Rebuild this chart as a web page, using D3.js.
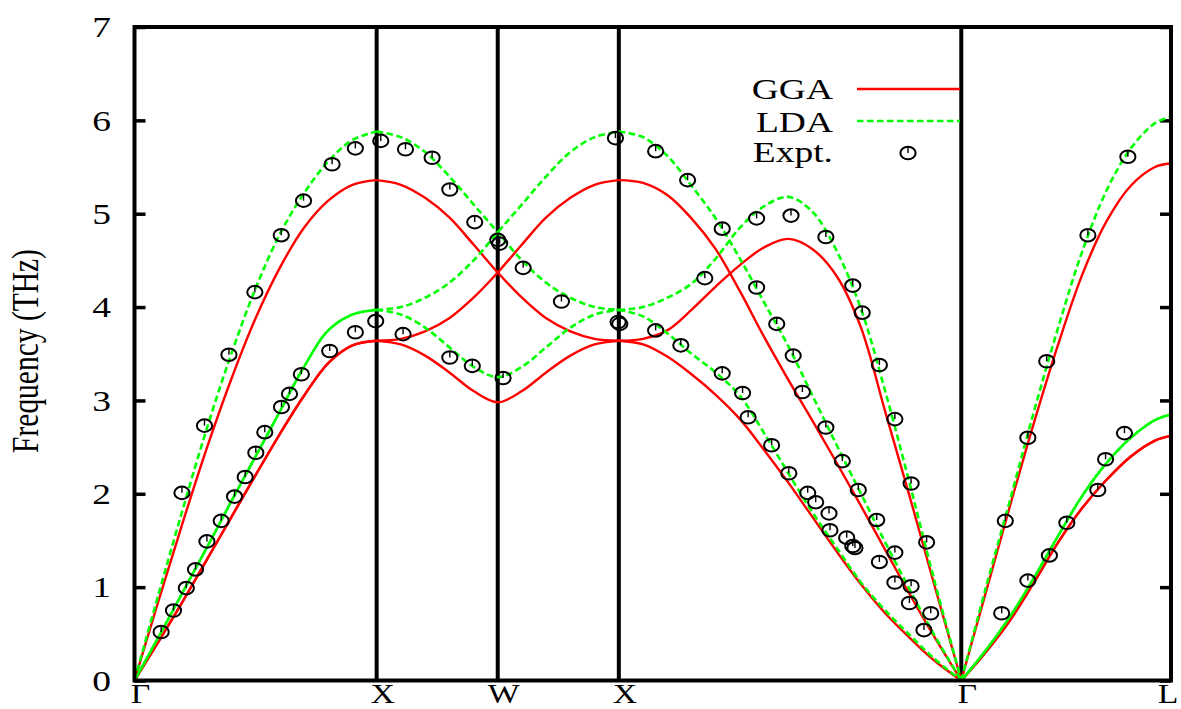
<!DOCTYPE html>
<html><head><meta charset="utf-8">
<script src="https://cdn.jsdelivr.net/npm/d3@7"></script>
<style>
body{margin:0;background:#fff}
svg{display:block;background:#fff}
text{font-family:"Liberation Serif","Times New Roman",serif;fill:#000}
</style>
</head><body>
<svg id="c" width="1181" height="709"></svg>
<script>
// ---- high-symmetry path ----
const symLabels = ["Γ", "X", "W", "X", "Γ", "L"];
const symK = [0, 1, 1.5, 2, 3.4142, 4.2802];
const yTicks = [0, 1, 2, 3, 4, 5, 6, 7];

// ---- Γ–X ----
const kGX = [0, 0.1, 0.2, 0.3, 0.4, 0.5, 0.6, 0.7, 0.8, 0.9, 1.0];
const ggaGX_LA = [0, 0.86, 1.7, 2.5, 3.23, 3.88, 4.42, 4.85, 5.14, 5.31, 5.36];
const ggaGX_TA = [0, 0.42, 0.85, 1.3, 1.75, 2.2, 2.64, 3.05, 3.4, 3.59, 3.64];
const ldaGX_LA = [0, 0.93, 1.84, 2.71, 3.5, 4.2, 4.78, 5.22, 5.56, 5.79, 5.88];
const ldaGX_TA = [0, 0.47, 0.95, 1.43, 1.92, 2.4, 2.88, 3.36, 3.75, 3.92, 3.97];

// ---- X–W–X ----
const kXWX = [1.0, 1.1, 1.2, 1.3, 1.4, 1.5, 1.6, 1.7, 1.8, 1.9, 2.0];
const ggaXWX_A = [5.36, 5.31, 5.17, 4.96, 4.67, 4.37, 4.1, 3.88, 3.74, 3.66, 3.64];
const ggaXWX_B = [3.64, 3.66, 3.74, 3.88, 4.1, 4.37, 4.67, 4.96, 5.17, 5.31, 5.36];
const ggaXWX_C = [3.64, 3.6, 3.48, 3.3, 3.1, 2.98, 3.1, 3.3, 3.48, 3.6, 3.64];
const ldaXWX_A = [5.88, 5.82, 5.66, 5.4, 5.1, 4.8, 4.5, 4.26, 4.1, 4.0, 3.97];
const ldaXWX_B = [3.97, 4.0, 4.1, 4.26, 4.5, 4.8, 5.1, 5.4, 5.66, 5.82, 5.88];
const ldaXWX_C = [3.97, 3.92, 3.78, 3.57, 3.36, 3.25, 3.36, 3.57, 3.78, 3.92, 3.97];

// ---- X–Γ ----
const kXG = [2.0, 2.1, 2.2, 2.3, 2.4, 2.5, 2.6, 2.7, 2.8, 2.9, 3.0, 3.1, 3.2, 3.3, 3.4142];
const ggaXG_1 = [5.36, 5.33, 5.2, 4.95, 4.62, 4.17, 3.68, 3.22, 2.78, 2.33, 1.87, 1.40, 0.93, 0.48, 0];
const ggaXG_2 = [3.64, 3.66, 3.75, 3.97, 4.22, 4.45, 4.64, 4.73, 4.62, 4.33, 3.78, 2.88, 1.98, 1.05, 0];
const ggaXG_3 = [3.64, 3.6, 3.47, 3.28, 3.06, 2.8, 2.47, 2.12, 1.75, 1.38, 1.03, 0.72, 0.46, 0.22, 0];
const ldaXG_1 = [5.88, 5.82, 5.62, 5.3, 4.95, 4.52, 4.05, 3.58, 3.05, 2.52, 2.0, 1.48, 0.98, 0.5, 0];
const ldaXG_2 = [3.97, 4.0, 4.1, 4.25, 4.52, 4.85, 5.08, 5.18, 5.02, 4.6, 3.98, 3.1, 2.12, 1.1, 0];
const ldaXG_3 = [3.97, 3.9, 3.72, 3.5, 3.3, 3.05, 2.65, 2.22, 1.8, 1.42, 1.05, 0.75, 0.49, 0.24, 0];

// ---- Γ–L ----
const kGL = [3.4142, 3.5142, 3.6142, 3.7142, 3.8142, 3.9142, 4.0142, 4.1142, 4.2142, 4.2802];
const ggaGL_LA = [0, 0.93, 1.86, 2.76, 3.6, 4.35, 4.92, 5.3, 5.5, 5.54];
const ggaGL_TA = [0, 0.3, 0.64, 1.05, 1.48, 1.85, 2.15, 2.4, 2.57, 2.62];
const ldaGL_LA = [0, 0.98, 1.92, 2.88, 3.78, 4.6, 5.25, 5.7, 5.97, 6.04];
const ldaGL_TA = [0, 0.32, 0.68, 1.1, 1.55, 1.98, 2.33, 2.6, 2.79, 2.85];

// ---- Experiment ----
const exptK = [
  0.196, 0.289, 0.390, 0.497, 0.606, 0.698, 0.816, 0.912, 1.017,
  0.110, 0.161, 0.214, 0.252, 0.299, 0.358, 0.413, 0.457, 0.501, 0.538, 0.607, 0.640, 0.689, 0.806, 0.912, 0.996,
  1.119, 1.229, 1.302, 1.405, 1.500, 1.508, 1.605, 1.763, 1.986,
  1.109, 1.302, 1.395, 1.522, 1.997, 2.004,
  2.152, 2.284, 2.427, 2.569, 2.711, 2.355, 2.855, 2.569, 2.966, 2.652, 3.005, 2.720, 3.076, 2.758,
  2.152, 2.256, 2.427, 2.511, 2.534, 2.855, 2.631, 2.923, 2.702, 2.989, 3.140, 3.207, 3.271,
  2.780, 2.813, 2.868, 2.872, 2.941, 2.966, 2.975, 3.065, 3.140, 3.076, 3.140, 3.207, 3.200, 3.288, 3.260,
  3.581, 3.596, 3.689, 3.689, 3.778, 3.767, 3.850, 3.937, 3.978, 4.010, 4.088, 4.102
];
const exptV = [
  2.01, 2.73, 3.49, 4.16, 4.77, 5.14, 5.53, 5.70, 5.78,
  0.52, 0.75, 0.99, 1.19, 1.49, 1.71, 1.97, 2.18, 2.44, 2.66, 2.93, 3.07, 3.28, 3.53, 3.73, 3.85,
  5.69, 5.60, 5.26, 4.91, 4.72, 4.68, 4.42, 4.06, 5.81,
  3.71, 3.46, 3.37, 3.24, 3.84, 3.82,
  5.67, 5.36, 4.84, 4.95, 4.98, 4.31, 4.75, 4.21, 4.23, 3.82, 3.94, 3.48, 3.38, 3.09,
  3.75, 3.59, 3.29, 3.08, 2.82, 2.71, 2.52, 2.35, 2.22, 2.04, 2.80, 2.11, 1.48,
  2.01, 1.91, 1.79, 1.61, 1.53, 1.44, 1.42, 1.72, 1.37, 1.27, 1.05, 1.01, 0.83, 0.72, 0.54,
  0.72, 1.71, 1.07, 2.60, 1.34, 3.42, 1.69, 4.77, 2.04, 2.37, 2.65, 5.61
];

const legendNames = ["GGA", "LDA", "Expt."];
const yLabel = "Frequency (THz)";

// ---- build ----
const segments = [
  {k: kGX, gga: [ggaGX_LA, ggaGX_TA, ggaGX_TA], lda: [ldaGX_LA, ldaGX_TA, ldaGX_TA]},
  {k: kXWX, gga: [ggaXWX_A, ggaXWX_B, ggaXWX_C], lda: [ldaXWX_A, ldaXWX_B, ldaXWX_C]},
  {k: kXG, gga: [ggaXG_1, ggaXG_2, ggaXG_3], lda: [ldaXG_1, ldaXG_2, ldaXG_3]},
  {k: kGL, gga: [ggaGL_LA, ggaGL_TA, ggaGL_TA], lda: [ldaGL_LA, ldaGL_TA, ldaGL_TA]}
];

const RED = "#ff0000", GREEN = "#00ff00";
const DASH = "6.5,3.5";
const SX = 1.25, FS = 30;

const svg = d3.select("#c");
const x = d3.scaleLinear().domain([0, 4.2802]).range([134.5, 1171]);
const y = d3.scaleLinear().domain([0, 7]).range([680.5, 27]);

// vertical high-symmetry lines
svg.append("g").selectAll("line").data(symK.slice(1, -1)).join("line")
  .attr("x1", d => x(d)).attr("x2", d => x(d))
  .attr("y1", y(7)).attr("y2", y(0))
  .attr("stroke", "#000").attr("stroke-width", 4);

// axes ticks (inward)
const axL = svg.append("g").attr("transform", `translate(${x(0)},0)`)
  .call(d3.axisLeft(y).tickValues(yTicks).tickSizeInner(-11).tickSizeOuter(0).tickFormat(""));
const axR = svg.append("g").attr("transform", `translate(${x(4.2802)},0)`)
  .call(d3.axisRight(y).tickValues(yTicks).tickSizeInner(-11).tickSizeOuter(0).tickFormat(""));
[axL, axR].forEach(a => {
  a.select(".domain").remove();
  a.selectAll("line").attr("stroke", "#000").attr("stroke-width", 3.5);
});

// y tick labels
svg.append("g").selectAll("g").data(yTicks).join("g")
  .attr("transform", d => `translate(111,${y(d)}) scale(${SX},1)`)
  .append("text").attr("text-anchor", "end").attr("dy", "0.34em")
  .attr("font-size", FS).text(d => d);

// x labels
svg.append("g").selectAll("g").data(symK).join("g")
  .attr("transform", d => `translate(${Math.min(x(d) + 6, 1168)},703) scale(${SX},1)`)
  .append("text").attr("text-anchor", "middle").attr("font-size", 27)
  .text((d, i) => symLabels[i]);

// y axis title
svg.append("g").attr("transform", `translate(37.5,351) scale(${SX},1) rotate(-90)`)
  .append("text").attr("text-anchor", "middle").attr("font-size", 29.5).text(yLabel);

const line = d3.line().x(d => x(d[0])).y(d => y(d[1])).curve(d3.curveCatmullRom.alpha(0.5));

// GGA
const gG = svg.append("g");
segments.forEach(s => {
  s.gga.forEach(arr => {
    gG.append("path").attr("d", line(s.k.map((k, i) => [k, arr[i]])))
      .attr("fill", "none").attr("stroke", RED).attr("stroke-width", 2.4);
  });
});
// LDA
const gL = svg.append("g");
segments.forEach(s => {
  s.lda.forEach((arr, j) => {
    const dup = s.lda.indexOf(arr) !== j;
    gL.append("path").attr("d", line(s.k.map((k, i) => [k, arr[i]])))
      .attr("fill", "none").attr("stroke", GREEN).attr("stroke-width", 2.6)
      .attr("stroke-dasharray", DASH).attr("stroke-dashoffset", dup ? 5 : 0);
  });
});

// frame
svg.append("rect").attr("x", x(0)).attr("y", y(7))
  .attr("width", x(4.2802) - x(0)).attr("height", y(0) - y(7))
  .attr("fill", "none").attr("stroke", "#000").attr("stroke-width", 4);

// experiment markers
function marker(sel) {
  sel.append("ellipse").attr("rx", 7.6).attr("ry", 6.3)
    .attr("fill", "none").attr("stroke", "#000").attr("stroke-width", 2);
  sel.append("line").attr("x1", 0).attr("x2", 0).attr("y1", -6.3).attr("y2", 0)
    .attr("stroke", "#000").attr("stroke-width", 1.4);
}
const pts = exptK.map((k, i) => [k, exptV[i]]);
svg.append("g").selectAll("g").data(pts).join("g")
  .attr("transform", d => `translate(${x(d[0])},${y(d[1])})`)
  .call(marker);

// legend
const lg = svg.append("g");
const ly = [99, 132, 162];
legendNames.forEach((n, i) => {
  lg.append("g").attr("transform", `translate(833,${ly[i]}) scale(${SX},1)`)
    .append("text").attr("text-anchor", "end").attr("font-size", FS).text(n);
});
lg.append("line").attr("x1", 857).attr("x2", 960).attr("y1", 89).attr("y2", 89)
  .attr("stroke", RED).attr("stroke-width", 2.4);
lg.append("line").attr("x1", 857).attr("x2", 960).attr("y1", 121).attr("y2", 121)
  .attr("stroke", GREEN).attr("stroke-width", 2.6).attr("stroke-dasharray", DASH);
lg.append("g").attr("transform", "translate(908,153)").call(marker);
</script>
</body></html>
